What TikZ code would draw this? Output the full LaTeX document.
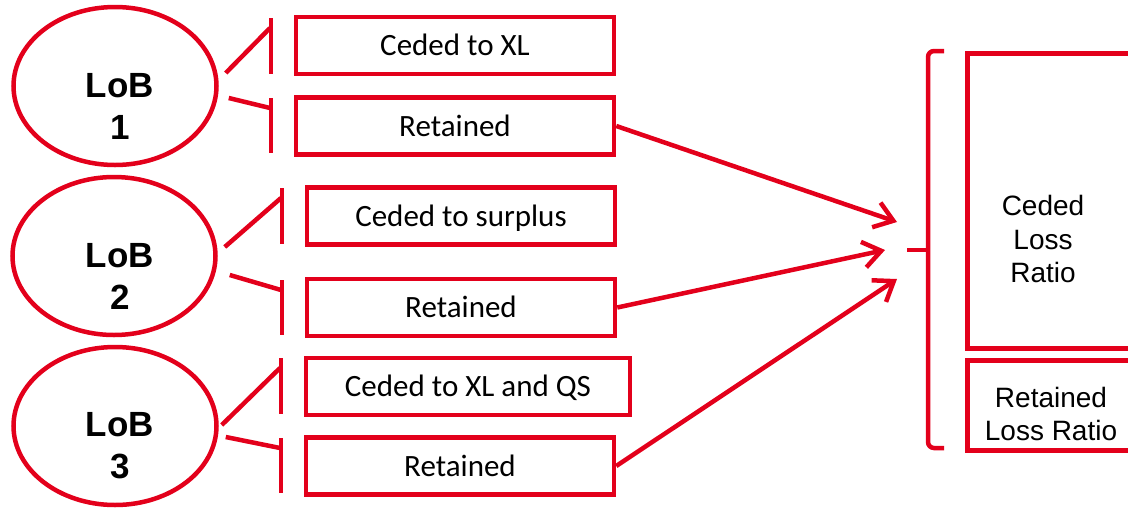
\documentclass[tikz,border=0pt]{standalone}
\usepackage{fontspec}
\setmainfont{Liberation Sans}
\newfontfamily\boxfont{Carlito}
\usetikzlibrary{shapes.geometric,arrows.meta}
\definecolor{lobred}{RGB}{227,0,27}

\begin{document}
\begin{tikzpicture}[x=1pt,y=-1pt,
  redline/.style={draw=lobred,line width=4.5pt},
  lob/.style={ellipse,draw=lobred,line width=4.5pt,minimum width=203pt,minimum height=158pt,inner sep=0pt},
  loblabel/.style={font=\fontsize{35}{42}\selectfont\bfseries,align=center,inner sep=0pt},
  part/.style={rectangle,draw=lobred,line width=4.5pt,minimum height=57pt,inner sep=0pt,
    text height=20pt,text depth=0pt,font=\boxfont\fontsize{31}{37}\selectfont},
  ratio/.style={rectangle,draw=lobred,line width=4.5pt,inner sep=0pt,anchor=north west},
  ratiolabel/.style={font=\fontsize{28}{33.5}\selectfont,align=center,inner sep=0pt},
  feed/.style={redline,-{Straight Barb[length=18pt,width=26pt]}}
]
\useasboundingbox (0,0) rectangle (1128,507);

% lines of business
\node[lob] (e1) at (115,86) {};
\node[lob] (e2) at (114,256) {};
\node[lob] (e3) at (115,426) {};
\node[loblabel] (t1) at (120,106) {LoB\\1};
\node[loblabel] (t2) at (120,276) {LoB\\2};
\node[loblabel] (t3) at (120,446) {LoB\\3};

% ceded / retained parts
\node[part,minimum width=318pt] (c1) at (455,45.5) {Ceded to XL};
\node[part,minimum width=318pt] (r1) at (455,126) {Retained};
\node[part,minimum width=308pt] (c2) at (461,216) {Ceded to surplus};
\node[part,minimum width=308pt] (r2) at (461,307.5) {Retained};
\node[part,minimum width=324pt] (c3) at (468,386.5) {Ceded to XL and QS};
\node[part,minimum width=308pt] (r3) at (460,466) {Retained};

% split bars in front of the parts
\coordinate (k1u) at (270,28);  \coordinate (k1l) at (270,108);
\coordinate (k2u) at (281,198); \coordinate (k2l) at (281,290);
\coordinate (k3u) at (280,368); \coordinate (k3l) at (280,448);
\draw[redline] (271,18) -- (271,74);
\draw[redline] (271,98) -- (271,153);
\draw[redline] (282,188) -- (282,244);
\draw[redline] (282,280) -- (282,335);
\draw[redline] (281,358) -- (281,414);
\draw[redline] (281,438) -- (281,493);

\draw[redline] ([shift={(7,-13)}]e1.east) -- (k1u);
\draw[redline] ([shift={(10,12)}]e1.east) -- (k1l);
\draw[redline] ([shift={(7,-9)}]e2.east) -- (k2u);
\draw[redline] ([shift={(12,19)}]e2.east) -- (k2l);
\draw[redline] ([shift={(3,-1)}]e3.east) -- (k3u);
\draw[redline] ([shift={(7,11)}]e3.east) -- (k3l);

% loss ratio columns
\node[ratio,minimum width=200pt,minimum height=295pt] (clr) at (965,51) {};
\node[ratio,minimum width=200pt,minimum height=90pt] (rlr) at (965,358) {};
\node[ratiolabel] (clrt) at (1043,239) {Ceded\\Loss\\Ratio};
\node[ratiolabel] (rlrt) at (1051,414) {Retained\\Loss Ratio};

% bracket grouping the ratios
\coordinate (brace) at (907,250);
\draw[redline,rounded corners=6pt] (944,51) -- (928,51) -- (928,448) -- (944,448);
\draw[redline] (brace) -- (929,250);

% retained parts feeding the ratio
\coordinate (a1) at (897,222);
\coordinate (a2) at (885,250);
\coordinate (a3) at (897,279);
\draw[feed] (r1.east) -- (a1);
\draw[feed] (r2.east) -- (a2);
\draw[feed] (r3.east) -- (a3);
\end{tikzpicture}
\end{document}
